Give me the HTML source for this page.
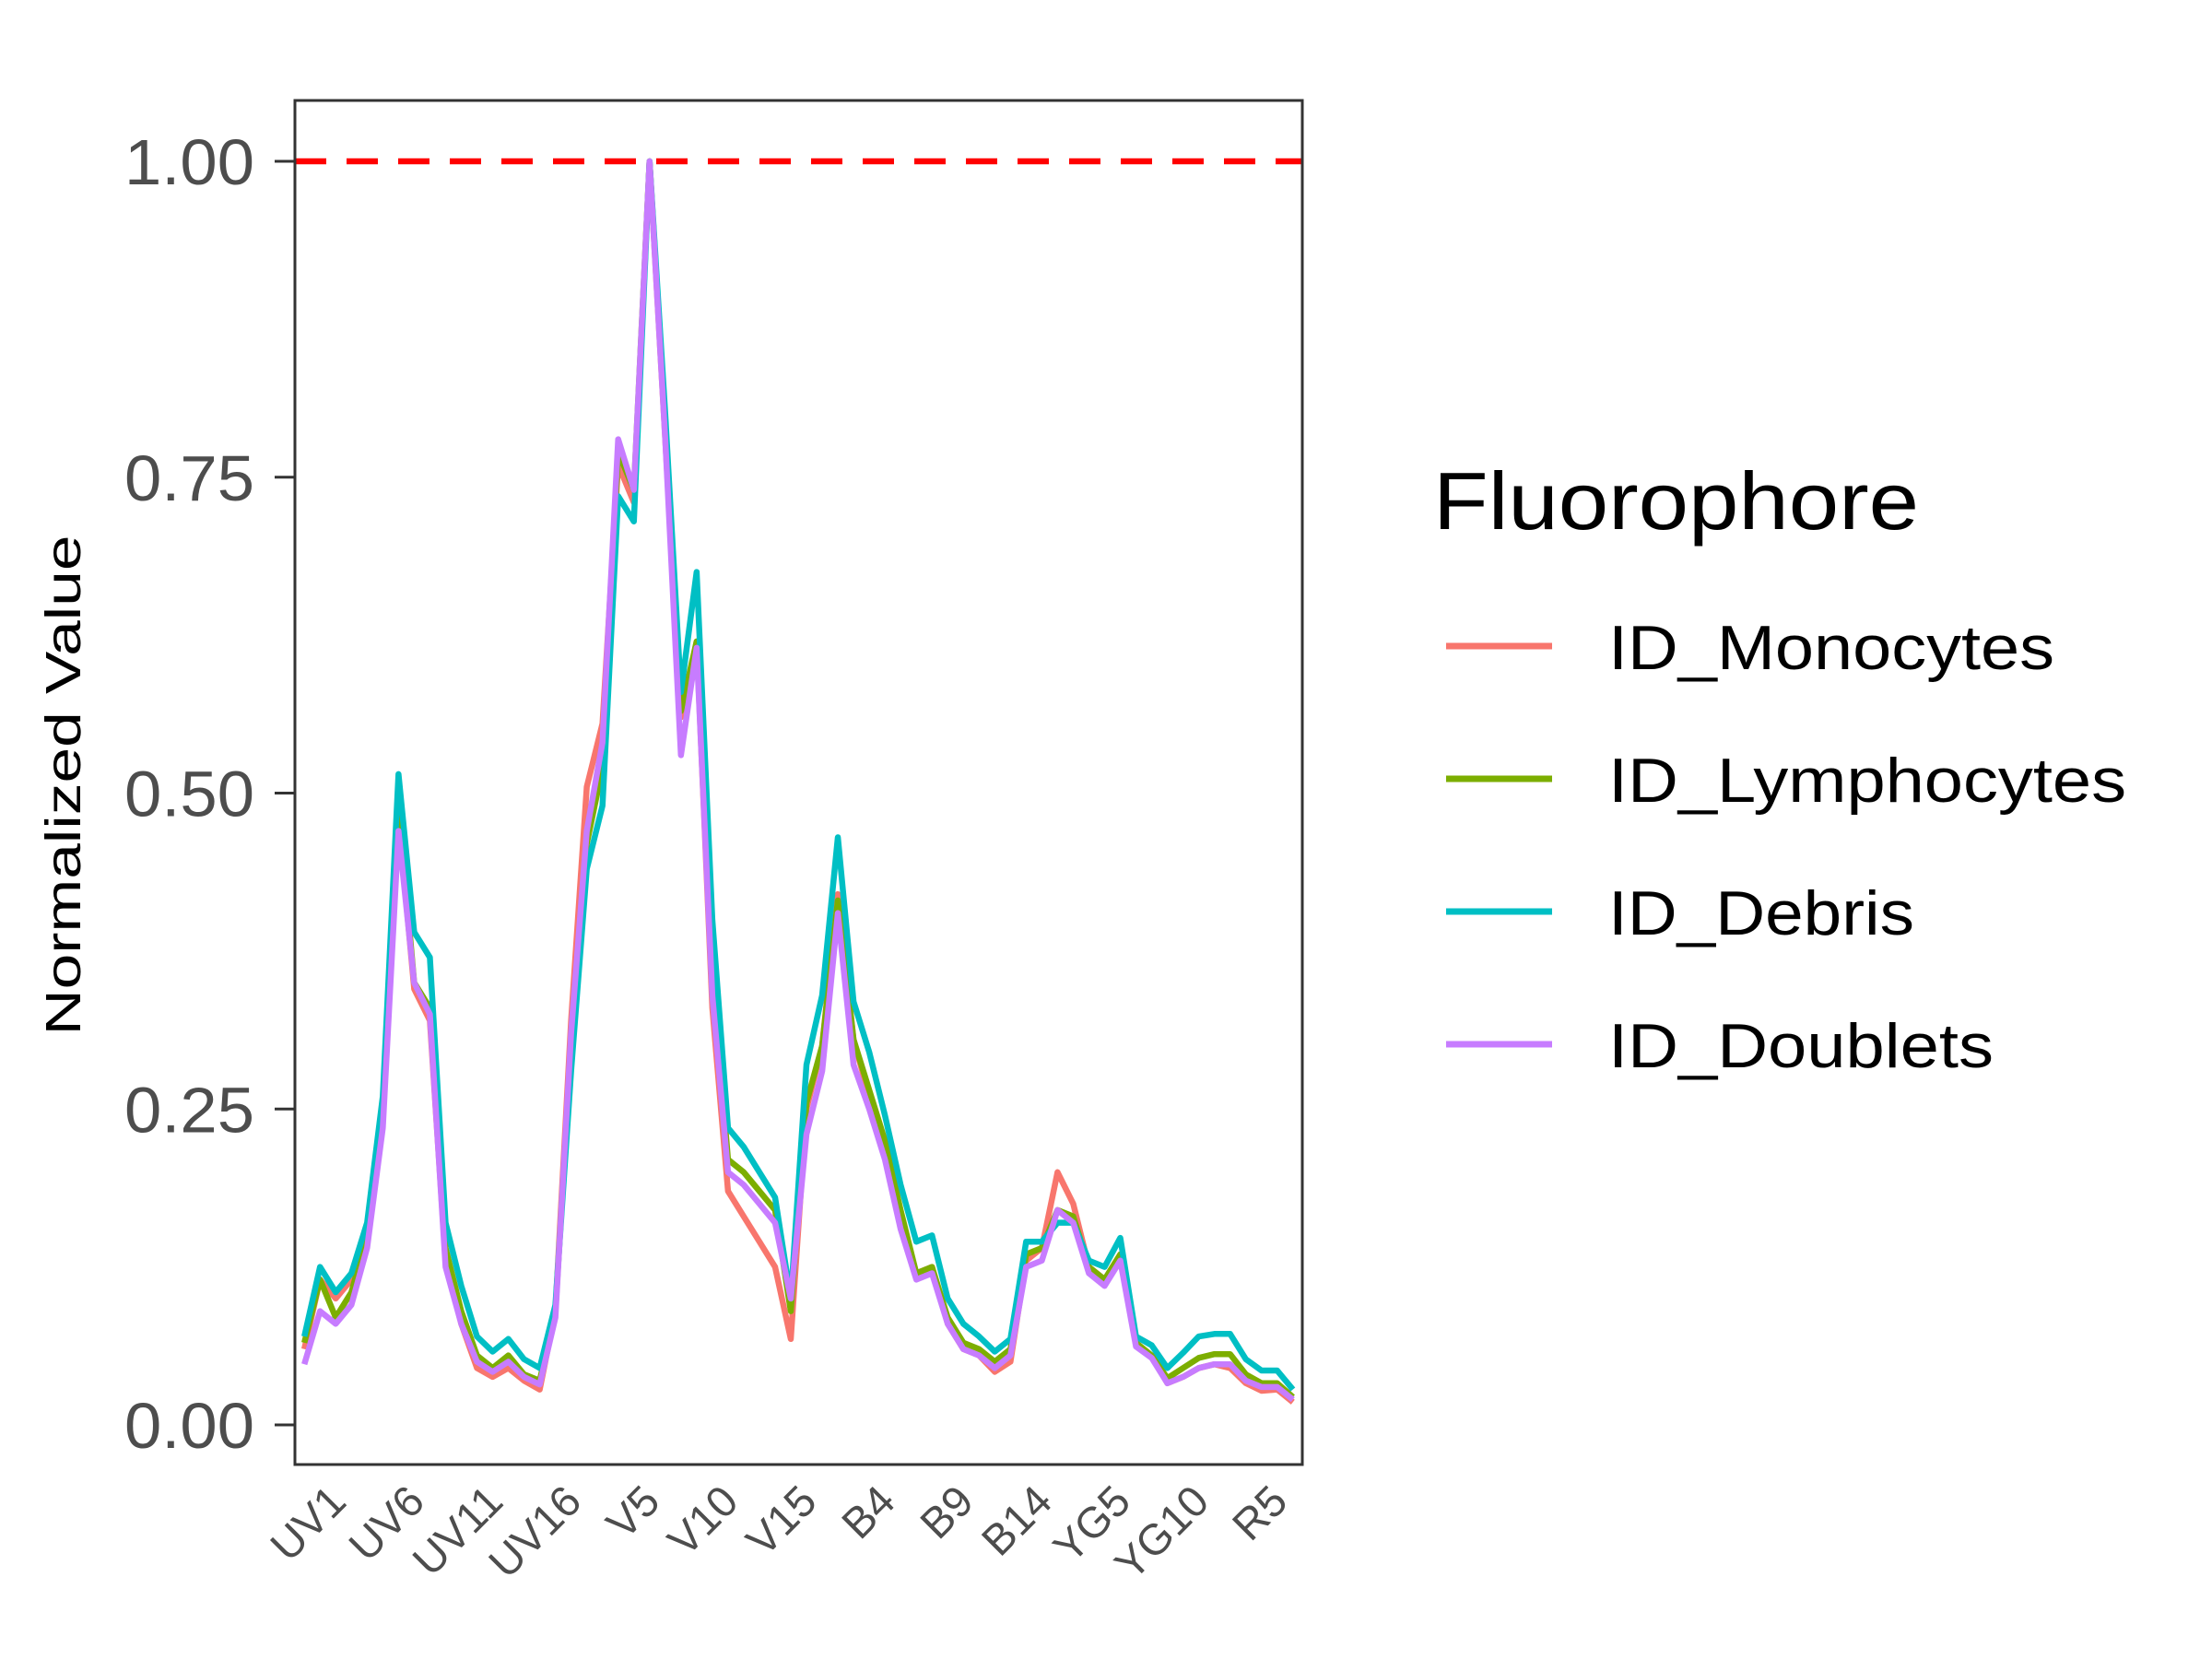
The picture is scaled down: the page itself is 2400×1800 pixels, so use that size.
<!DOCTYPE html>
<html><head><meta charset="utf-8"><style>html,body{margin:0;padding:0;background:#fff}svg{display:block}</style></head>
<body>
<svg id="chart" width="2400" height="1800" viewBox="0 0 2400 1800" xmlns="http://www.w3.org/2000/svg" font-family="'Liberation Sans', 'DejaVu Sans', sans-serif">
<rect width="2400" height="1800" fill="#fff"/>
<g id="plot"></g>
<text transform="translate(87,852) rotate(-90)" text-anchor="middle" font-size="54" fill="#000" textLength="543" lengthAdjust="spacingAndGlyphs">Normalized Value</text>
<g>
<text x="1555" y="574" font-size="88" fill="#000" textLength="527" lengthAdjust="spacingAndGlyphs">Fluorophore</text>
<g id="legend-entries"></g>
</g>
</svg>
<script>
const channels = [];
const groups = [["UV",16],["V",16],["B",14],["YG",10],["R",8]];
groups.forEach(g => { for (let i = 1; i <= g[1]; i++) channels.push(g[0] + i); });
const tickLabels = ["UV1","UV6","UV11","UV16","V5","V10","V15","B4","B9","B14","YG5","YG10","R5"];
const yTicks = [0, 0.25, 0.5, 0.75, 1.0];
const yTickLabels = ["0.00","0.25","0.50","0.75","1.00"];
const seriesNames = ["ID_Monocytes","ID_Lymphocytes","ID_Debris","ID_Doublets"];
const monocytes = [0.06,0.115,0.1,0.115,0.15,0.25,0.48,0.345,0.32,0.13,0.08,0.045,0.038,0.045,0.035,0.028,0.09,0.32,0.505,0.555,0.76,0.73,1.0,0.78,0.56,0.62,0.33,0.185,0.165,0.145,0.125,0.068,0.25,0.3,0.42,0.305,0.26,0.215,0.165,0.12,0.125,0.08,0.06,0.055,0.042,0.05,0.13,0.14,0.2,0.175,0.125,0.115,0.135,0.063,0.055,0.033,0.038,0.045,0.048,0.045,0.033,0.027,0.028,0.018];
const lymphocytes = [0.065,0.115,0.085,0.105,0.15,0.25,0.49,0.35,0.33,0.14,0.09,0.055,0.045,0.055,0.04,0.035,0.09,0.3,0.46,0.52,0.77,0.74,1.0,0.79,0.565,0.62,0.36,0.21,0.2,0.185,0.17,0.09,0.255,0.3,0.415,0.305,0.265,0.225,0.17,0.12,0.125,0.085,0.065,0.06,0.05,0.06,0.135,0.14,0.17,0.165,0.125,0.115,0.135,0.065,0.055,0.037,0.045,0.053,0.056,0.056,0.04,0.033,0.033,0.022];
const debris = [0.07,0.125,0.105,0.12,0.16,0.26,0.515,0.39,0.37,0.16,0.11,0.07,0.058,0.068,0.052,0.045,0.095,0.28,0.44,0.49,0.735,0.715,1.0,0.8,0.58,0.675,0.4,0.235,0.22,0.2,0.18,0.1,0.285,0.34,0.465,0.335,0.295,0.245,0.19,0.145,0.15,0.1,0.08,0.07,0.058,0.068,0.145,0.145,0.16,0.16,0.13,0.125,0.148,0.07,0.063,0.045,0.057,0.07,0.072,0.072,0.052,0.043,0.043,0.028];
const doublets = [0.048,0.09,0.08,0.095,0.14,0.235,0.47,0.35,0.325,0.125,0.08,0.05,0.042,0.05,0.038,0.032,0.085,0.31,0.47,0.54,0.78,0.74,1.0,0.78,0.53,0.615,0.34,0.2,0.19,0.175,0.16,0.1,0.23,0.28,0.405,0.285,0.25,0.21,0.155,0.115,0.12,0.08,0.06,0.055,0.045,0.055,0.125,0.13,0.17,0.16,0.12,0.11,0.13,0.062,0.053,0.033,0.038,0.045,0.048,0.048,0.035,0.03,0.03,0.02];
const referenceLine = 1.0;

const NS = "http://www.w3.org/2000/svg";
const P = {l:320, r:1413, t:109, b:1589};
const Y0 = 1546, Y1 = 175;
const n = channels.length;
const step = (P.r - P.l) / (n - 1 + 1.2);
function xPos(i){ return P.l + step * (0.6 + i); }
function yPos(v){ return Y0 - v * (Y0 - Y1); }
function mk(tag, attrs, parent){ const e = document.createElementNS(NS, tag); for (const k in attrs) e.setAttribute(k, attrs[k]); parent.appendChild(e); return e; }
const plot = document.getElementById("plot");
const colors = ["#F8766D","#7CAE00","#00BFC4","#C77CFF"];
const allSeries = [monocytes, lymphocytes, debris, doublets];

allSeries.forEach((s, si) => {
  const d = s.map((v, i) => (i ? "L" : "M") + xPos(i).toFixed(2) + "," + yPos(v).toFixed(2)).join(" ");
  const p = mk("path", {d: d, fill: "none", stroke: colors[si], "stroke-width": 6.5, "stroke-linejoin": "round"}, plot);
  
  
});
const ref = mk("line", {x1: P.l, x2: P.r, y1: yPos(referenceLine), y2: yPos(referenceLine), stroke: "#ff0000", "stroke-width": 6.5, "stroke-dasharray": "34 22"}, plot);


const border = mk("rect", {x: P.l, y: P.t, width: P.r - P.l, height: P.b - P.t, fill: "none", stroke: "#333", "stroke-width": 3}, plot);



yTicks.forEach((v, i) => {
  const y = yPos(v);
  const t = mk("line", {x1: P.l - 22, x2: P.l, y1: y, y2: y, stroke: "#333", "stroke-width": 3}, plot);
  
  
  const lb = mk("text", {x: 276, y: y + 25, "text-anchor": "end", "font-size": 70, fill: "#4d4d4d", textLength: 141, lengthAdjust: "spacingAndGlyphs"}, plot);
  lb.textContent = yTickLabels[i];
  
  
});
channels.forEach((c, i) => {
  const x = xPos(i);
  if (tickLabels.indexOf(c) >= 0) {
    const lb = mk("text", {transform: "translate(" + (x + 36) + "," + 1620 + ") rotate(-45)", "text-anchor": "end", "dominant-baseline": "central", "font-size": 47, fill: "#4d4d4d"}, plot);
    lb.textContent = c;
    
    
  }
});
const leg = document.getElementById("legend-entries");
const legY = [701, 845, 989, 1133];
const legW = [484, 562, 332, 418];
seriesNames.forEach((nm, i) => {
  const g = mk("g", {}, leg);
  
  
  const k = mk("line", {x1: 1569, x2: 1684, y1: legY[i], y2: legY[i], stroke: colors[i], "stroke-width": 7}, g);
  
  
  const tx = mk("text", {x: 1745, y: legY[i] + 25, "font-size": 68, fill: "#000", textLength: legW[i], lengthAdjust: "spacingAndGlyphs"}, g);
  tx.textContent = nm;
  
  
});
</script>
</body></html>
